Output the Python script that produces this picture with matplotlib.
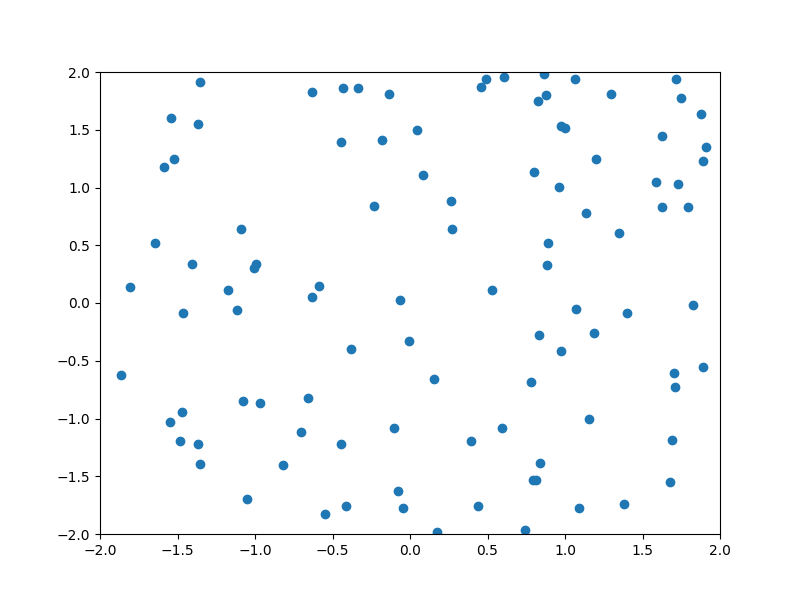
import numpy as np
import matplotlib
matplotlib.use('Agg')
import matplotlib.pyplot as plt

# point coordinates
x_vals = [-1.353, -1.540, -1.366, -1.521, -1.585, -1.090, -1.645, -1.406, -0.992, -1.005,
          -1.804, -1.174,
          -0.630, -0.430, -0.334, -0.134, 0.492, 0.460, 0.608, 0.047, -0.443, -0.179,
          0.086, -0.230, 0.267, 0.273, -0.585, -0.630, -0.063, 0.531,
          0.867, 1.067, 1.718, 0.880, 0.828, 1.299, 1.750, 1.879, 0.976, 1.002,
          1.628, 1.912, 1.892, 1.202, 0.802, 1.589, 1.729, 0.963, 1.628, 1.794,
          1.135, 1.351, 0.890, 0.886,
          -1.465, -1.114, -1.862, -1.075, -0.968, -0.658, -0.701, -1.469, -1.551, -1.482,
          -1.366, -1.353, -0.817, -1.050,
          -0.008, -0.379, 0.157, -0.103, -0.443, 0.396, 0.596, -0.075, -0.411, -0.546,
          -0.045, 0.439, 0.176,
          1.071, 1.398, 1.828, 0.832, 1.189, 0.976, 0.781, 1.701, 1.892, 1.712,
          1.157, 1.692, 0.841, 0.796, 0.815, 1.679, 1.092, 1.383, 0.744]

y_vals = [1.911, 1.599, 1.547, 1.244, 1.175, 0.638, 0.517, 0.335, 0.338, 0.303,
          0.136, 0.110,
          1.824, 1.859, 1.859, 1.807, 1.937, 1.868, 1.954, 1.495, 1.391, 1.409,
          1.106, 0.837, 0.880, 0.638, 0.145, 0.049, 0.023, 0.110,
          1.980, 1.937, 1.937, 1.798, 1.749, 1.807, 1.772, 1.634, 1.530, 1.513,
          1.443, 1.348, 1.227, 1.244, 1.132, 1.045, 1.028, 1.002, 0.829, 0.829,
          0.779, 0.603, 0.517, 0.326,
          -0.089, -0.063, -0.626, -0.849, -0.869, -0.825, -1.120, -0.946, -1.033, -1.198,
          -1.224, -1.394, -1.406, -1.700,
          -0.332, -0.401, -0.661, -1.085, -1.224, -1.198, -1.085, -1.631, -1.761, -1.830,
          -1.777, -1.761, -1.985,
          -0.055, -0.089, -0.015, -0.280, -0.263, -0.419, -0.687, -0.609, -0.557, -0.730,
          -1.004, -1.189, -1.388, -1.535, -1.535, -1.552, -1.777, -1.743, -1.965]

fig = plt.figure(figsize=(8, 6), dpi=100)
plt.scatter(x_vals, y_vals)
plt.xlim(-2, 2)
plt.ylim(-2, 2)
plt.savefig('out.png')
